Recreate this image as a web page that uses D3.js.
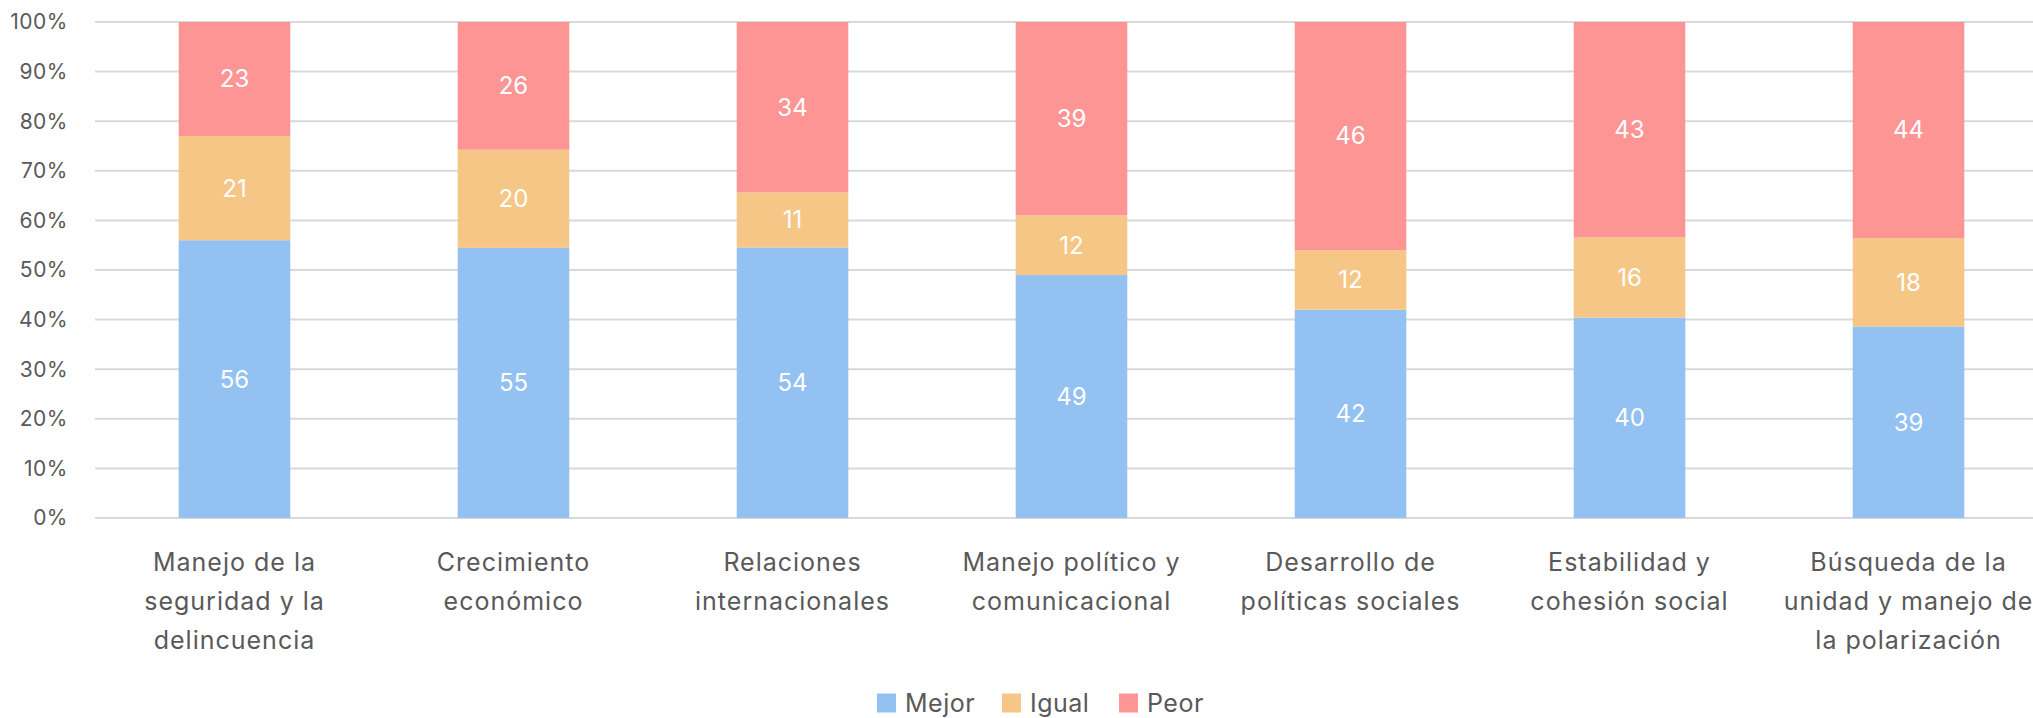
<!DOCTYPE html>
<html>
<head>
<meta charset="utf-8">
<script src="https://cdn.jsdelivr.net/npm/d3@7"></script>
<style>
  html, body { margin: 0; padding: 0; background: #fff; }
  svg { display: block; font-family: Inter, "Open Sans", sans-serif; }
</style>
</head>
<body>
<div id="chart"></div>
<script>
// categories (line breaks as in the original axis)
var categories = [
  "Manejo de la\nseguridad y la\ndelincuencia",
  "Crecimiento\neconómico",
  "Relaciones\ninternacionales",
  "Manejo político y\ncomunicacional",
  "Desarrollo de\npolíticas sociales",
  "Estabilidad y\ncohesión social",
  "Búsqueda de la\nunidad y manejo de\nla polarización"
];
var mejor = [56, 55, 54, 49, 42, 40, 39];
var igual = [21, 20, 11, 12, 12, 16, 18];
var peor  = [23, 26, 34, 39, 46, 43, 44];
var seriesNames = ["Mejor", "Igual", "Peor"];
var seriesColors = ["#92c1f2", "#f5c686", "#fe9595"];
var yTicks = [0, 0.1, 0.2, 0.3, 0.4, 0.5, 0.6, 0.7, 0.8, 0.9, 1];

var width = 2033, height = 718;
var margin = { top: 22, left: 95, bottom: 200 };

var data = categories.map(function(c, i) {
  var tot = mejor[i] + igual[i] + peor[i];
  return { cat: c, Mejor: mejor[i] / tot, Igual: igual[i] / tot, Peor: peor[i] / tot,
           raw: { Mejor: mejor[i], Igual: igual[i], Peor: peor[i] } };
});

var x = d3.scaleBand().domain(categories)
  .range([margin.left, margin.left + 7 * 279]).paddingInner(0.6).paddingOuter(0.3);
var y = d3.scaleLinear().domain([0, 1]).range([height - margin.bottom, margin.top]);

var svg = d3.select("#chart").append("svg")
  .attr("width", width).attr("height", height);

// gridlines
svg.append("g").selectAll("line").data(yTicks).enter().append("line")
  .attr("x1", margin.left).attr("x2", width)
  .attr("y1", function(d) { return y(d); }).attr("y2", function(d) { return y(d); })
  .attr("stroke", "#d9d9d9").attr("stroke-width", 2);

// y axis labels
svg.append("g").selectAll("text").data(yTicks).enter().append("text")
  .attr("x", 68).attr("y", function(d) { return y(d); })
  .attr("dy", "0.35em").attr("text-anchor", "end")
  .attr("fill", "#595959").style("font-size", "21px").style("letter-spacing", "0.5px")
  .text(d3.format(".0%"));

var stack = d3.stack().keys(seriesNames)(data);

var groups = svg.append("g").selectAll("g").data(stack).enter().append("g")
  .attr("fill", function(d, i) { return seriesColors[i]; });

groups.selectAll("rect").data(function(d) { return d; }).enter().append("rect")
  .attr("x", function(d) { return x(d.data.cat); })
  .attr("width", x.bandwidth())
  .attr("y", function(d) { return y(d[1]); })
  .attr("height", function(d) { return y(d[0]) - y(d[1]); });

// value labels
stack.forEach(function(s) {
  svg.append("g").selectAll("text").data(s).enter().append("text")
    .attr("x", function(d) { return x(d.data.cat) + x.bandwidth() / 2; })
    .attr("y", function(d) { return (y(d[0]) + y(d[1])) / 2; })
    .attr("dy", "0.35em").attr("text-anchor", "middle")
    .attr("fill", "#ffffff").style("font-size", "24px")
    .text(function(d) { return d.data.raw[s.key]; });
});

// category labels
var catG = svg.append("g").selectAll("text").data(categories).enter().append("text")
  .attr("text-anchor", "middle").attr("fill", "#595959")
  .style("font-size", "25px").style("letter-spacing", "1px")
  .attr("transform", function(d) { return "translate(" + (x(d) + x.bandwidth() / 2) + "," + (y(0) + 44) + ")"; });
catG.selectAll("tspan").data(function(d) { return d.split("\n"); }).enter().append("tspan")
  .attr("x", 0).attr("dy", function(d, i) { return i === 0 ? "0.35em" : "39px"; })
  .text(function(d) { return d; });

// legend
var legendX = [877, 1002, 1119];
var leg = svg.append("g").selectAll("g").data(seriesNames).enter().append("g")
  .attr("transform", function(d, i) { return "translate(" + legendX[i] + ",703)"; });
leg.append("rect").attr("x", 0).attr("y", -9.5).attr("width", 19).attr("height", 19)
  .attr("fill", function(d, i) { return seriesColors[i]; });
leg.append("text").attr("x", 28).attr("dy", "0.35em")
  .attr("fill", "#595959").style("font-size", "25px").style("letter-spacing", "0.5px")
  .text(function(d) { return d; });
</script>
</body>
</html>
